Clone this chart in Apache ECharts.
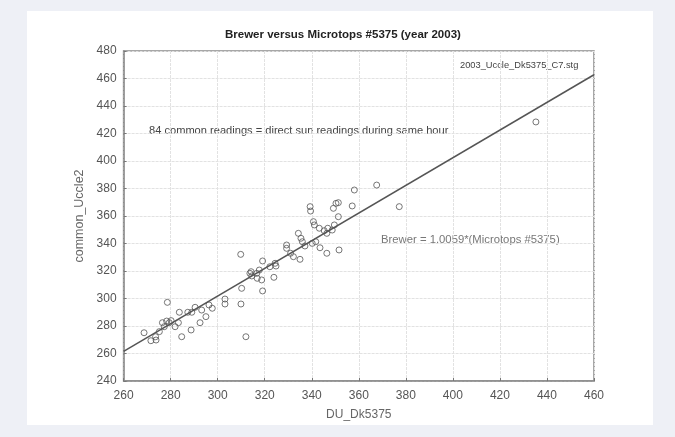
<!DOCTYPE html>
<html>
<head>
<meta charset="utf-8">
<script src="https://cdn.jsdelivr.net/npm/echarts@6/dist/echarts.min.js"></script>
<style>
html,body{margin:0;padding:0;background:#eef0f6;}
#chart{width:675px;height:437px;}
</style>
</head>
<body>
<div id="chart"></div>
<script>
// x: DU_Dk5375 (Microtops), y: common_Uccle2 (Brewer)
const xValues = [278.6,268.7,271.6,273.8,273.6,275.2,276.5,277.3,278.3,279.4,280.2,281.9,283.3,283.7,284.7,287.3,289.0,288.7,290.4,292.5,293.2,295.0,296.3,297.7,303.1,303.1,
  309.8,309.9,310.2,312.0,313.7,314.5,314.2,316.6,316.8,317.7,318.7,319.1,319.1,322.2,323.9,324.4,324.8,329.3,329.3,331.0,332.2,335.0,334.3,335.4,336.0,337.1,340.2,
  339.3,339.5,340.7,341.1,341.7,343.2,343.5,345.3,346.8,346.4,346.4,348.7,349.2,349.6,350.3,351.3,351.3,351.6,357.2,358.1,367.6,377.2,435.3];
const yValues = [297.2,275.1,269.3,269.8,272.2,275.9,282.4,279.5,283.6,282.4,283.9,279.5,282.4,290.0,272.2,290.0,290.0,277.1,293.6,282.4,291.6,286.8,295.3,292.9,299.6,296.0,
  332.1,296.0,307.4,272.2,318.3,316.4,319.5,318.3,314.7,320.7,313.5,327.3,305.5,323.1,315.4,325.6,323.6,338.9,336.5,332.9,330.4,328.5,347.4,343.8,341.3,338.2,340.1,
  366.8,363.6,355.9,353.5,341.3,351.1,336.9,349.3,351.1,347.4,332.9,349.8,365.6,353.5,369.2,369.7,359.5,335.3,367.3,378.9,382.5,366.8,428.4];
const slope = 1.0059;
const xRange = [260, 460];
const yRange = [240, 480];
const tickStep = 20;

const titleText = 'Brewer versus Microtops #5375 (year 2003)';
const fileText = '2003_Uccle_Dk5375_C7.stg';
const noteText = '84 common readings = direct sun readings during same hour';
const eqText = 'Brewer = 1.0059*(Microtops #5375)';
const xName = 'DU_Dk5375';
const yName = 'common_Uccle2';

const points = xValues.map((x, i) => [x, yValues[i]]);
const fitLine = xRange.map(x => [x, x * slope]);

const FONT = '"Liberation Sans", Arial, sans-serif';
const chart = echarts.init(document.getElementById('chart'), null, {renderer: 'canvas'});
chart.setOption({
  backgroundColor: '#eef0f6',
  animation: false,
  graphic: [
    {type: 'rect', z: -10, shape: {x: 27, y: 11, width: 626, height: 414}, style: {fill: '#ffffff'}},
    {type: 'text', left: 225, top: 29, style: {text: titleText, font: 'bold 11.5px ' + FONT, fill: '#222'}},
    {type: 'text', left: 460, top: 61, style: {text: fileText, font: '9.3px ' + FONT, fill: '#444'}},
    {type: 'text', left: 149, top: 125, style: {text: noteText, font: '11.1px ' + FONT, fill: '#444'}},
    {type: 'text', left: 381, top: 234, style: {text: eqText, font: '11.3px ' + FONT, fill: '#777'}}
  ],
  grid: {left: 123.6, right: 81, top: 51, bottom: 56, show: true, borderColor: '#8a8a8a', borderWidth: 1.5, backgroundColor: '#fff'},
  xAxis: {
    type: 'value', min: xRange[0], max: xRange[1], interval: tickStep,
    name: xName, nameLocation: 'middle', nameGap: 28,
    nameTextStyle: {color: '#666', fontSize: 12, fontFamily: FONT},
    axisLine: {show: true, lineStyle: {color: '#8a8a8a', width: 1.5}},
    axisTick: {show: true, inside: true, length: 3, lineStyle: {color: '#777'}},
    axisLabel: {color: '#555', fontSize: 12, fontFamily: FONT, margin: 9},
    splitLine: {show: true, lineStyle: {color: '#e2e2e2', width: 1, type: [3, 1]}}
  },
  yAxis: {
    type: 'value', min: yRange[0], max: yRange[1], interval: tickStep,
    name: yName, nameLocation: 'middle', nameGap: 28, nameRotate: 90,
    nameTextStyle: {color: '#666', fontSize: 12.5, fontFamily: FONT},
    axisLine: {show: true, lineStyle: {color: '#8a8a8a', width: 1.5}},
    axisTick: {show: true, inside: true, length: 3, lineStyle: {color: '#777'}},
    axisLabel: {color: '#555', fontSize: 12, fontFamily: FONT, margin: 7},
    splitLine: {show: true, lineStyle: {color: '#e2e2e2', width: 1, type: [3, 1]}}
  },
  series: [
    {
      type: 'line', data: fitLine, showSymbol: false, symbol: 'none', z: 3,
      lineStyle: {color: '#555', width: 1.5}
    },
    {
      type: 'scatter', data: points, symbol: 'circle', symbolSize: 6, z: 4,
      itemStyle: {color: 'rgba(255,255,255,0)', borderColor: '#555', borderWidth: 1}
    }
  ]
});
</script>
</body>
</html>
